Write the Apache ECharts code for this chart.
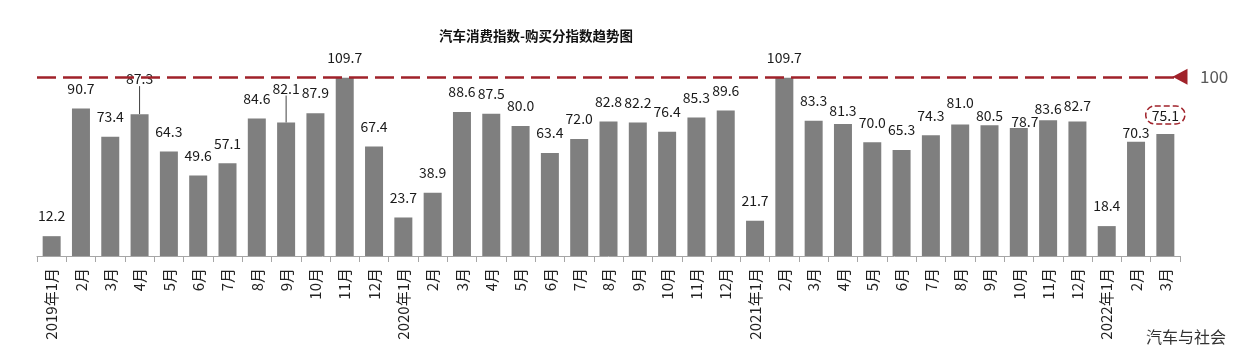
<!DOCTYPE html>
<html>
<head>
<meta charset="utf-8">
<script src="https://cdn.jsdelivr.net/npm/echarts@6/dist/echarts.min.js"></script>
<style>
  html, body { margin: 0; padding: 0; background: #fff; }
  #chart { width: 1242px; height: 351px; }
</style>
</head>
<body>
<div id="chart"></div>
<script>
const months = [
  '2019年1月', '2月', '3月', '4月', '5月', '6月', '7月', '8月', '9月', '10月', '11月', '12月',
  '2020年1月', '2月', '3月', '4月', '5月', '6月', '7月', '8月', '9月', '10月', '11月', '12月',
  '2021年1月', '2月', '3月', '4月', '5月', '6月', '7月', '8月', '9月', '10月', '11月', '12月',
  '2022年1月', '2月', '3月'
]
const buyIndex = [
  12.2, 90.7, 73.4, 87.3, 64.3, 49.6, 57.1, 84.6, 82.1, 87.9, 109.7, 67.4,
  23.7, 38.9, 88.6, 87.5, 80.0, 63.4, 72.0, 82.8, 82.2, 76.4, 85.3, 89.6,
  21.7, 109.7, 83.3, 81.3, 70.0, 65.3, 74.3, 81.0, 80.5, 78.7, 83.6, 82.7,
  18.4, 70.3, 75.1
]
const baseLineLabel = '100'
const baseLineLevel = 110.3   // where the dashed reference line sits on the picture
const circledIndex = 38        // 2022年3月 label is circled

// hand-placed labels in the original (index -> [dx, dy] in px)
const labelNudge = {
  3: [0, -15], 8: [0, -14],
  27: [0, 7], 31: [0, -2], 32: [0, 10], 33: [6, 14], 34: [0, 9], 35: [0, 4], 37: [0, 11]
}
const leaderLines = [3, 8]

const chart = echarts.init(document.getElementById('chart'))
const font = '"Noto Sans CJK SC", "Microsoft YaHei", sans-serif'

const barData = buyIndex.map((v, i) => {
  const item = { value: v }
  if (leaderLines.includes(i)) {
    item.labelLine = { show: true, lineStyle: { color: '#404040', width: 1 } }
  }
  if (i === circledIndex) {
    item.label = {
      borderType: 'dashed',
      borderColor: '#a0222a',
      borderWidth: 1.5,
      borderRadius: 12,
      padding: [3, 6, 1, 6],
      distance: 10
    }
  }
  return item
})

const option = {
  animation: false,
  title: {
    text: '汽车消费指数-购买分指数趋势图',
    left: 434,
    top: 24,
    textStyle: { fontSize: 13.5, fontWeight: 'bold', color: '#111', fontFamily: font }
  },
  grid: { left: 37, right: 62, top: 61, bottom: 95 },
  xAxis: {
    type: 'category',
    data: months,
    axisLine: { lineStyle: { color: '#a6a6a6', width: 1 } },
    axisTick: { show: true, length: 6, lineStyle: { color: '#a6a6a6' } },
    axisLabel: {
      interval: 0,
      rotate: 90,
      fontSize: 15,
      color: '#222',
      fontFamily: font,
      margin: 12
    }
  },
  yAxis: {
    type: 'value',
    min: 0,
    max: 120,
    show: false
  },
  series: [{
    type: 'bar',
    data: barData,
    barWidth: 18,
    itemStyle: { color: '#7f7f7f' },
    label: {
      show: true,
      position: 'top',
      distance: 13,
      fontSize: 14,
      color: '#1a1a1a',
      fontFamily: font,
      formatter: p => p.value.toFixed(1)
    },
    labelLayout: p => {
      const n = labelNudge[p.dataIndex]
      return n ? { dx: n[0], dy: n[1] } : {}
    },
    markLine: {
      silent: true,
      symbol: ['none', 'triangle'],
      symbolSize: [16, 15],
      symbolRotate: 90,
      symbolOffset: [10, 0],
      lineStyle: { color: '#a0222a', width: 2.5, type: [19, 7] },
      label: {
        show: true,
        position: 'end',
        formatter: baseLineLabel,
        fontSize: 17,
        color: '#595959',
        fontFamily: font,
        distance: 20
      },
      data: [{ yAxis: baseLineLevel }]
    }
  }],
  graphic: [{
    type: 'text',
    right: 16,
    bottom: 6,
    style: { text: '汽车与社会', fontSize: 16, fill: '#333', fontFamily: font }
  }]
}

chart.setOption(option)
</script>
</body>
</html>
